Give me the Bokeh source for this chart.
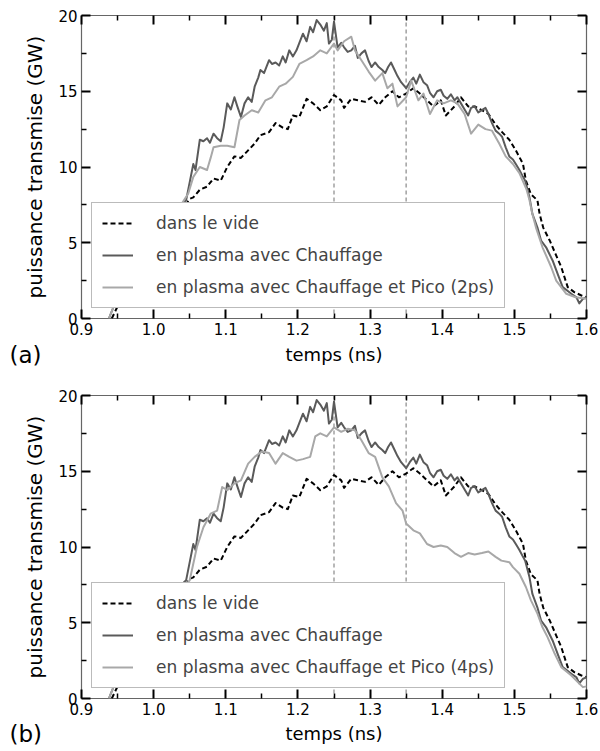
from bokeh.plotting import figure
from bokeh.layouts import column
from bokeh.models import (Range1d, LinearAxis, FixedTicker, PrintfTickFormatter,
                          CustomJSTickFormatter, Span, Label, Legend, LegendItem)
from bokeh.embed import file_html
from bokeh.resources import INLINE

# ---------------- data ----------------
x_ticks = [0.9, 1.0, 1.1, 1.2, 1.3, 1.4, 1.5, 1.6]
x_minor = [0.95, 1.05, 1.15, 1.25, 1.35, 1.45, 1.55]
y_ticks = [0, 5, 10, 15, 20]
y_minor = [2.5, 7.5, 12.5, 17.5]
markers = [1.25, 1.35]

t_vide = [0.942, 0.952, 0.970, 0.990, 1.010, 1.025, 1.040, 1.050, 1.055, 1.064, 1.074, 1.083,
          1.093, 1.102, 1.112, 1.121, 1.131, 1.140, 1.148, 1.160, 1.169, 1.179, 1.186, 1.193,
          1.202, 1.212, 1.221, 1.231, 1.240, 1.250, 1.260, 1.264, 1.274, 1.283, 1.293, 1.302,
          1.312, 1.321, 1.331, 1.340, 1.350, 1.360, 1.369, 1.379, 1.388, 1.398, 1.405, 1.417,
          1.426, 1.436, 1.445, 1.455, 1.464, 1.474, 1.483, 1.493, 1.502, 1.512, 1.516, 1.523,
          1.532, 1.535, 1.540, 1.549, 1.557, 1.565, 1.571, 1.574, 1.583, 1.593, 1.600]
p_vide = [0.0, 1.0, 2.0, 3.2, 4.5, 5.8, 7.2, 7.9, 8.0, 8.5, 8.7, 9.24,
          9.1, 10.0, 10.7, 10.6, 11.1, 11.55, 12.1, 12.3, 12.9, 12.6, 12.5, 13.4,
          13.3, 14.5, 14.2, 13.75, 14.0, 14.75, 14.4, 13.9, 14.5, 14.4, 14.3, 14.6,
          14.1, 14.6, 15.0, 14.6, 14.85, 15.2, 14.85, 14.4, 14.0, 14.4, 13.4, 14.0,
          14.6, 14.0, 14.0, 13.75, 13.5, 12.8, 12.3, 11.8, 11.1, 10.2, 9.1, 8.2,
          7.8, 6.9, 6.0, 5.15, 4.27, 3.4, 2.5, 2.07, 1.74, 1.52, 1.4]

t_chauf = [0.938, 0.948, 0.970, 0.990, 1.010, 1.025, 1.038, 1.045, 1.050, 1.055, 1.058, 1.064,
           1.069, 1.074, 1.078, 1.083, 1.088, 1.093, 1.097, 1.102, 1.107, 1.112, 1.116, 1.121,
           1.126, 1.131, 1.136, 1.140, 1.145, 1.148, 1.153, 1.160, 1.164, 1.169, 1.174, 1.179,
           1.183, 1.188, 1.193, 1.198, 1.202, 1.207, 1.212, 1.217, 1.221, 1.226, 1.231, 1.236,
           1.240, 1.243, 1.247, 1.250, 1.255, 1.260, 1.264, 1.269, 1.274, 1.279, 1.283, 1.288,
           1.293, 1.298, 1.302, 1.307, 1.312, 1.317, 1.321, 1.325, 1.329, 1.334, 1.338, 1.343,
           1.350, 1.355, 1.360, 1.364, 1.369, 1.374, 1.379, 1.383, 1.388, 1.393, 1.398, 1.402,
           1.407, 1.412, 1.417, 1.421, 1.426, 1.431, 1.436, 1.440, 1.445, 1.450, 1.455, 1.460,
           1.464, 1.469, 1.474, 1.479, 1.483, 1.488, 1.493, 1.498, 1.502, 1.507, 1.512, 1.515,
           1.521, 1.525, 1.532, 1.537, 1.544, 1.553, 1.560, 1.567, 1.579, 1.586, 1.590, 1.595,
           1.600]
p_chauf = [0.0, 1.2, 2.6, 3.9, 5.2, 6.4, 7.5, 7.8, 9.0, 10.2, 9.8, 11.8,
           11.7, 11.9, 11.6, 12.2, 11.9, 11.7, 12.6, 14.2, 13.8, 14.6, 14.0, 13.3,
           14.2, 14.6, 14.3, 15.3, 15.9, 16.4, 16.2, 17.05, 16.8, 16.9, 16.7, 17.3,
           16.9, 17.7, 17.3, 17.7, 18.2, 18.8, 18.3, 19.25, 18.9, 19.7, 19.4, 19.0,
           19.5, 18.15, 18.4, 19.6, 17.9, 18.2, 17.9, 17.6, 17.7, 18.0, 17.2, 17.5,
           17.7, 17.0, 16.6, 16.9, 16.6, 16.4, 16.2, 16.6, 16.9, 16.4, 16.0, 15.6,
           15.2, 15.6, 15.9, 15.5, 16.1, 15.6, 15.4, 14.9, 14.6, 15.0, 15.1, 14.7,
           14.5, 14.8, 14.4, 14.6, 14.2, 13.8, 13.4, 13.9, 14.0, 13.6, 13.75, 13.9,
           13.5, 12.9, 12.4, 12.2, 12.0, 11.3, 10.7, 10.5, 10.2, 9.8, 9.35, 9.1,
           8.0, 6.9, 6.0, 5.15, 4.7, 3.83, 2.95, 2.07, 1.63, 1.4, 1.0, 1.3,
           1.4]

t_pico2 = [0.938, 0.948, 0.970, 0.990, 1.010, 1.025, 1.038, 1.048, 1.055, 1.064, 1.074, 1.079,
           1.083, 1.093, 1.102, 1.112, 1.119, 1.126, 1.136, 1.145, 1.155, 1.164, 1.174, 1.183,
           1.193, 1.202, 1.212, 1.221, 1.231, 1.240, 1.250, 1.255, 1.264, 1.274, 1.279, 1.288,
           1.298, 1.307, 1.317, 1.324, 1.331, 1.338, 1.350, 1.357, 1.367, 1.374, 1.383, 1.393,
           1.402, 1.412, 1.421, 1.431, 1.440, 1.450, 1.460, 1.469, 1.479, 1.488, 1.498, 1.507,
           1.517, 1.521, 1.525, 1.530, 1.539, 1.551, 1.558, 1.572, 1.585, 1.600]
p_pico2 = [0.0, 1.2, 2.6, 3.9, 5.2, 6.4, 7.5, 8.25, 9.35, 10.0, 9.8, 10.6,
           11.3, 11.4, 11.4, 11.3, 13.1, 13.4, 13.75, 13.6, 14.4, 14.6, 15.3, 15.5,
           15.95, 16.8, 17.05, 17.3, 17.7, 17.5, 18.15, 17.7, 18.3, 18.6, 17.7, 17.05,
           16.3, 15.7, 16.2, 15.2, 15.5, 14.0, 14.6, 15.7, 14.4, 14.85, 13.5, 14.4,
           14.2, 14.4, 14.2, 13.5, 12.2, 12.8, 12.5, 12.4, 11.55, 10.7, 10.2, 9.6,
           8.5, 7.8, 6.9, 6.0, 4.7, 3.4, 2.5, 1.63, 1.4, 1.3]

t_pico4 = [0.938, 0.948, 0.970, 0.990, 1.010, 1.025, 1.040, 1.050, 1.060, 1.069, 1.079, 1.088,
           1.095, 1.102, 1.112, 1.121, 1.131, 1.140, 1.150, 1.160, 1.169, 1.179, 1.188, 1.198,
           1.207, 1.217, 1.224, 1.231, 1.240, 1.250, 1.260, 1.269, 1.279, 1.288, 1.298, 1.307,
           1.317, 1.326, 1.336, 1.345, 1.350, 1.360, 1.369, 1.379, 1.388, 1.398, 1.407, 1.417,
           1.426, 1.436, 1.445, 1.455, 1.464, 1.474, 1.482, 1.493, 1.498, 1.507, 1.516, 1.523,
           1.532, 1.539, 1.546, 1.556, 1.565, 1.579, 1.588, 1.595, 1.600]
p_pico4 = [0.0, 1.2, 2.6, 3.9, 5.2, 6.4, 7.3, 7.8, 10.0, 11.3, 12.2, 12.4,
           13.96, 13.75, 14.2, 14.4, 15.5, 15.95, 16.3, 16.2, 15.5, 16.2, 15.95, 15.7,
           15.8, 15.95, 17.3, 17.5, 17.3, 17.9, 17.6, 17.8, 17.7, 17.05, 16.2, 15.95,
           14.6, 14.0, 12.9, 12.4, 11.55, 11.1, 10.9, 10.2, 10.0, 10.1, 10.0, 9.6,
           9.35, 9.6, 9.5, 9.6, 9.7, 9.35, 9.1, 9.0, 8.67, 8.23, 7.36, 6.48,
           5.6, 4.7, 4.05, 2.95, 2.07, 1.52, 1.08, 0.75, 0.8]

labels = ["dans le vide", "en plasma avec Chauffage"]
pico_labels = ["en plasma avec Chauffage et Pico (2ps)", "en plasma avec Chauffage et Pico (4ps)"]
tags = ["(a)", "(b)"]
x_title = "temps (ns)"
y_title = "puissance transmise (GW)"

# ---------------- styling ----------------
FONT = "DejaVu Sans"
C_VIDE = "#000000"
C_CHAUF = "#5a5a5a"
C_PICO = "#a8a8a8"
W = 600
FRAME_L = 81
FRAME_R = 14
FRAME_W = W - FRAME_L - FRAME_R


def style_axis(ax, show_labels):
    ax.major_tick_in = 9
    ax.major_tick_out = 0
    ax.minor_tick_in = 5
    ax.minor_tick_out = 0
    ax.major_tick_line_width = 2
    ax.major_tick_line_color = "black"
    ax.minor_tick_line_width = 1.5
    ax.minor_tick_line_color = "black"
    ax.axis_line_color = None
    ax.major_label_text_font = FONT
    ax.major_label_text_font_size = "15px"
    ax.major_label_text_color = "black"
    ax.axis_label_text_font = FONT
    ax.axis_label_text_font_size = "20px"
    ax.axis_label_text_font_style = "normal"
    ax.axis_label_text_color = "black"
    if show_labels:
        ax.major_label_standoff = 4
        ax.axis_label_standoff = 8
    else:
        ax.major_label_standoff = 0
        ax.formatter = CustomJSTickFormatter(code="return ''")


def make_panel(pico_t, pico_p, pico_label):
    p = figure(width=W, height=340,
               x_range=Range1d(0.9, 1.6), y_range=Range1d(0, 20),
               x_axis_type=None, y_axis_type=None,
               output_backend="svg", toolbar_location=None,
               min_border_left=FRAME_L, min_border_right=FRAME_R,
               min_border_top=15, min_border_bottom=22)
    p.outline_line_color = "#666666"
    p.outline_line_width = 1.2
    p.background_fill_color = "white"
    p.border_fill_color = "white"

    xb = LinearAxis(ticker=FixedTicker(ticks=x_ticks, minor_ticks=x_minor),
                    formatter=PrintfTickFormatter(format="%.1f"))
    style_axis(xb, True)
    p.add_layout(xb, "below")
    xt = LinearAxis(ticker=FixedTicker(ticks=x_ticks, minor_ticks=x_minor))
    style_axis(xt, False)
    p.add_layout(xt, "above")
    yl = LinearAxis(ticker=FixedTicker(ticks=y_ticks, minor_ticks=y_minor),
                    axis_label=y_title)
    style_axis(yl, True)
    p.add_layout(yl, "left")
    yr = LinearAxis(ticker=FixedTicker(ticks=y_ticks, minor_ticks=y_minor))
    style_axis(yr, False)
    p.add_layout(yr, "right")

    for m in markers:
        p.add_layout(Span(location=m, dimension="height", line_color="#a0a0a0",
                          line_width=1.5, line_dash="4 3", level="underlay"))

    r1 = p.line(t_vide, p_vide, line_color=C_VIDE, line_width=2, line_dash="5 3",
                line_join="round")
    r2 = p.line(t_chauf, p_chauf, line_color=C_CHAUF, line_width=2, line_join="round")
    r3 = p.line(pico_t, pico_p, line_color=C_PICO, line_width=2, line_join="round")

    leg = Legend(items=[LegendItem(label=labels[0], renderers=[r1]),
                        LegendItem(label=labels[1], renderers=[r2]),
                        LegendItem(label=pico_label, renderers=[r3])],
                 location="bottom_left", margin=10, padding=10, spacing=12,
                 glyph_width=31, glyph_height=20, label_height=20, label_standoff=23,
                 label_text_font=FONT, label_text_font_size="17px",
                 border_line_color="#777777", border_line_width=1.2,
                 background_fill_color="white", background_fill_alpha=1.0)
    p.add_layout(leg, "center")
    return p


def make_caption(tag, height, center_from_top):
    # strip under each panel: frame is aligned with the panels (81..586),
    # the tag sits in the left border panel so that it is not clipped
    s = figure(width=W, height=height, x_range=Range1d(0, 1), y_range=Range1d(0, 1),
               x_axis_type=None, y_axis_type=None,
               output_backend="svg", toolbar_location=None,
               min_border_left=FRAME_L, min_border_right=FRAME_R,
               min_border_top=0, min_border_bottom=0, outline_line_color=None)
    s.grid.visible = False
    yc = (height - center_from_top) / height
    s.add_layout(Label(x=(9 - FRAME_L) / FRAME_W, y=yc, text=tag,
                       text_font=FONT, text_font_size="23px", text_baseline="middle",
                       text_align="left", text_color="black"), "left")
    s.add_layout(Label(x=0.5, y=yc, text=x_title,
                       text_font=FONT, text_font_size="18px", text_baseline="middle",
                       text_align="center", text_color="black"))
    return s


p1 = make_panel(t_pico2, p_pico2, pico_labels[0])
c1 = make_caption(tags[0], 40, 14)
p2 = make_panel(t_pico4, p_pico4, pico_labels[1])
c2 = make_caption(tags[1], 30, 13)

layout = column(p1, c1, p2, c2, spacing=0)
open("out.html", "w").write(file_html(layout, INLINE))
